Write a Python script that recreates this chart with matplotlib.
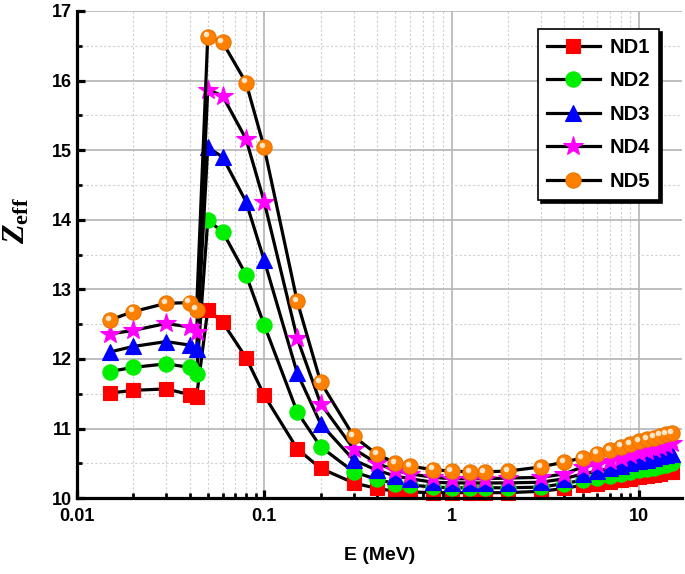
import matplotlib
matplotlib.use('Agg')
import matplotlib.pyplot as plt
import matplotlib.transforms as mtrans
from matplotlib.ticker import MultipleLocator, LogLocator, FixedLocator, NullFormatter

plt.rcParams['font.family'] = ['Liberation Sans', 'DejaVu Sans']
plt.rcParams['font.weight'] = 'bold'
plt.rcParams['mathtext.fontset'] = 'custom'
plt.rcParams['mathtext.rm'] = 'Liberation Serif:bold'
plt.rcParams['mathtext.it'] = 'Liberation Serif:italic:bold'
plt.rcParams['mathtext.bf'] = 'Liberation Serif:bold'

# photon energy (MeV)
energy = [0.015, 0.02, 0.03, 0.04, 0.0436, 0.05, 0.06, 0.08, 0.1, 0.15, 0.2,
          0.3, 0.4, 0.5, 0.6, 0.8, 1, 1.25, 1.5, 2, 3, 4,
          5, 6, 7, 8, 9, 10, 11, 12, 13, 14, 15]

nd1 = [11.51, 11.55, 11.57, 11.49, 11.46, 12.71, 12.53, 12.02, 11.48, 10.71, 10.43,
       10.22, 10.14, 10.10, 10.09, 10.08, 10.08, 10.08, 10.08, 10.08, 10.10, 10.14,
       10.19, 10.21, 10.24, 10.26, 10.28, 10.30, 10.32, 10.34, 10.35, 10.37, 10.38]
nd2 = [11.82, 11.88, 11.93, 11.88, 11.79, 13.99, 13.83, 13.21, 12.49, 11.24, 10.74,
       10.38, 10.27, 10.21, 10.19, 10.16, 10.15, 10.15, 10.15, 10.15, 10.16, 10.21,
       10.26, 10.29, 10.32, 10.35, 10.38, 10.40, 10.42, 10.44, 10.46, 10.48, 10.50]
nd3 = [12.10, 12.18, 12.25, 12.20, 12.14, 15.04, 14.90, 14.26, 13.42, 11.80, 11.07,
       10.55, 10.40, 10.32, 10.28, 10.23, 10.22, 10.22, 10.22, 10.22, 10.23, 10.28,
       10.35, 10.39, 10.43, 10.46, 10.50, 10.53, 10.55, 10.58, 10.60, 10.62, 10.64]
nd4 = [12.36, 12.41, 12.51, 12.46, 12.39, 15.87, 15.78, 15.16, 14.26, 12.30, 11.36,
       10.71, 10.50, 10.40, 10.35, 10.30, 10.28, 10.28, 10.28, 10.29, 10.30, 10.35,
       10.45, 10.49, 10.54, 10.58, 10.62, 10.65, 10.68, 10.71, 10.74, 10.77, 10.79]
nd5 = [12.56, 12.68, 12.80, 12.81, 12.71, 16.63, 16.55, 15.97, 15.04, 12.83, 11.67,
       10.89, 10.63, 10.51, 10.46, 10.41, 10.39, 10.38, 10.38, 10.39, 10.45, 10.52,
       10.58, 10.64, 10.69, 10.74, 10.78, 10.82, 10.85, 10.87, 10.90, 10.92, 10.94]

labels = ['ND1', 'ND2', 'ND3', 'ND4', 'ND5']
series = [nd1, nd2, nd3, nd4, nd5]
markers = ['s', 'o', '^', '*', 'o']
colors = ['#ff0000', '#00ee00', '#0000ff', '#ff00ff', '#ff8000']
edges = ['#ff0000', '#00ee00', '#0000ff', '#ff00ff', '#e87400']
sizes = [10, 11, 11, 15, 11]

fig = plt.figure(figsize=(6.85, 5.74), dpi=100)
ax = fig.add_axes([0.112, 0.132, 0.884, 0.849])

for lab, vals, m, c, ec, s in zip(labels, series, markers, colors, edges, sizes):
    ax.plot(energy, vals, color='black', lw=2.3, marker=m, ms=s,
            mfc=c, mec=ec, mew=0.8, label=lab, zorder=3, clip_on=False)
# highlight on the orange balls, shifted up-left
hl = mtrans.offset_copy(ax.transData, fig=fig, x=-1.6, y=1.6, units='points')
ax.plot(energy, nd5, ls='none', marker='o', ms=4, mfc='#ffe6c8', mec='none',
        zorder=4, transform=hl, clip_on=False)

ax.set_xscale('log')
ax.set_xlim(0.01, 17)
ax.set_ylim(10, 17)

ax.xaxis.set_major_locator(FixedLocator([0.01, 0.1, 1, 10]))
ax.set_xticklabels(['0.01', '0.1', '1', '10'])
ax.xaxis.set_minor_locator(LogLocator(base=10, subs=[2, 3, 4, 5, 6, 7, 8, 9]))
ax.xaxis.set_minor_formatter(NullFormatter())
ax.yaxis.set_major_locator(MultipleLocator(1))
ax.yaxis.set_minor_locator(MultipleLocator(0.5))

ax.grid(which='major', color='#b4b4b4', lw=1.2, ls='-', zorder=0)
ax.grid(which='minor', color='#d0d0d0', lw=0.8, ls=(0, (2, 2)), zorder=0)

for sp in ['top', 'right']:
    ax.spines[sp].set_visible(False)
for sp in ['left', 'bottom']:
    ax.spines[sp].set_linewidth(2.3)
    ax.spines[sp].set_zorder(5)

ax.tick_params(which='major', direction='in', length=6, width=2.3, labelsize=13)
ax.tick_params(which='minor', direction='in', length=3.5, width=2)
ax.tick_params(axis='x', pad=7)
for t in ax.get_xticklabels() + ax.get_yticklabels():
    t.set_fontweight('bold')

ax.set_xlabel('E (MeV)', fontsize=14, fontweight='bold', labelpad=16)
ax.set_ylabel(r'$Z_{\mathrm{eff}}$', fontsize=23)
ax.yaxis.set_label_coords(-0.075, 0.57)

leg = ax.legend(loc='upper right', bbox_to_anchor=(0.962, 0.963), borderaxespad=0,
                fancybox=False, shadow={'color': 'black', 'alpha': 1},
                edgecolor='black', framealpha=1, handlelength=2.6,
                prop={'weight': 'bold', 'size': 14.5}, labelspacing=0.72,
                handletextpad=0.5, borderpad=0.45)
leg.get_frame().set_linewidth(1.2)
leg.set_zorder(10)

fig.savefig('out.png', dpi=100)
